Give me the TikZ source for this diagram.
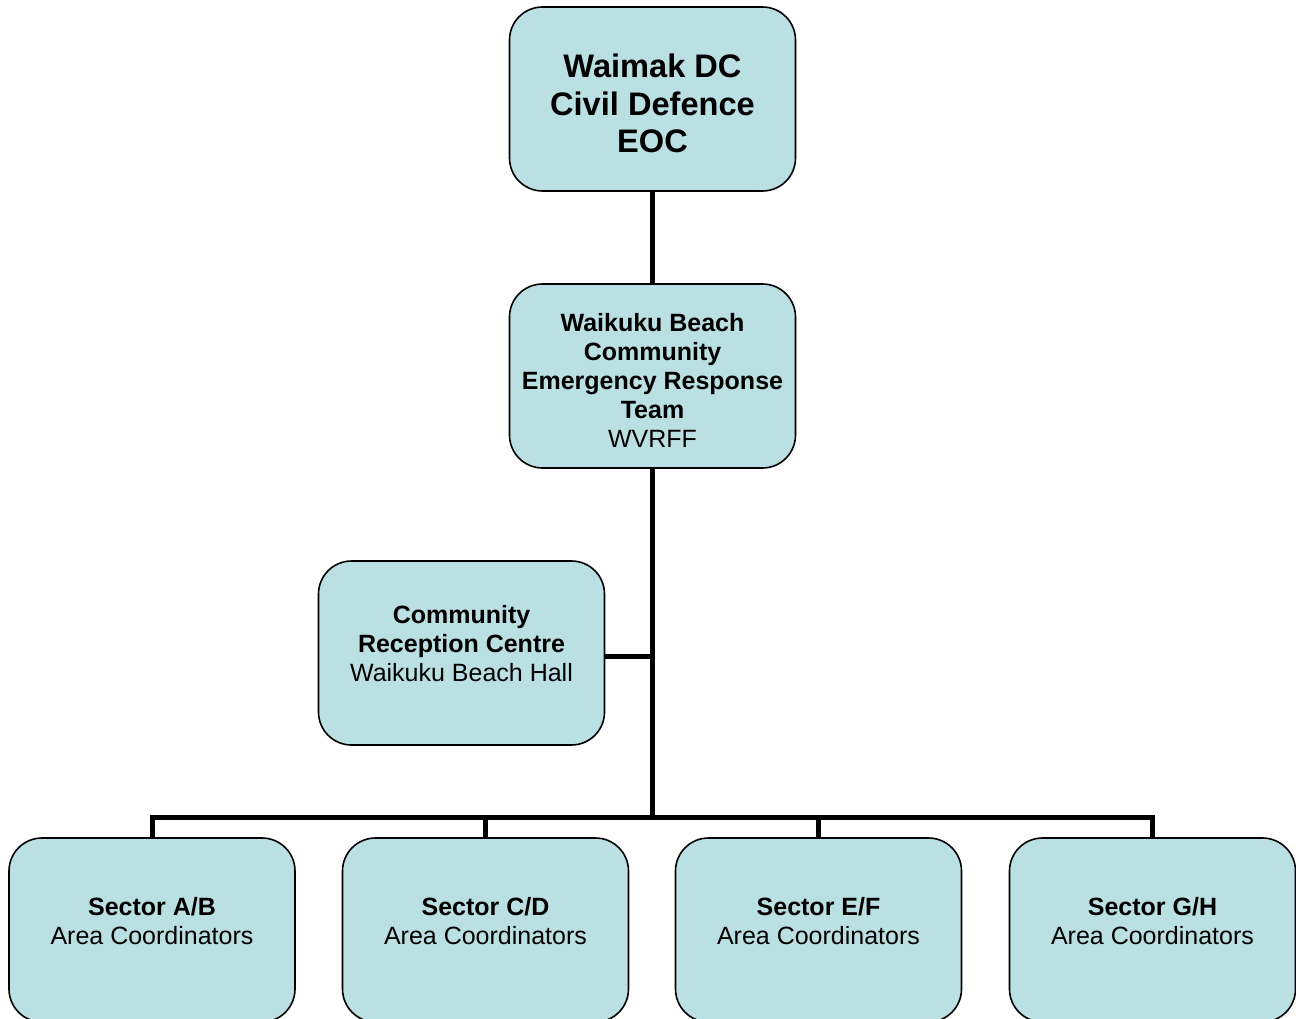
\documentclass[tikz,border=0pt]{standalone}
\usepackage{fontspec}
\setmainfont{Liberation Sans}
\definecolor{boxfill}{RGB}{187,224,227}
\begin{document}
\begin{tikzpicture}[x=1pt,y=-1pt,
  box/.style={draw=black, line width=1.6pt, fill=boxfill, rounded corners=33pt,
    minimum width=286pt, minimum height=184pt, inner sep=0pt, shape=rectangle},
  conn/.style={line width=5pt},
  tbig/.style={align=center, inner sep=0pt, font=\fontsize{32.6}{37.5}\selectfont\bfseries},
  tmid/.style={align=center, inner sep=0pt, font=\fontsize{25}{29}\selectfont}]
\useasboundingbox (0,0) rectangle (1296,1019);
\node[box] (top) at (652.5,99) {};
\node[box] (mid) at (652.5,376) {};
\node[box] (crc) at (461.5,653) {};
\node[box] (sab) at (152,930) {};
\node[box] (scd) at (485.5,930) {};
\node[box] (sef) at (818.5,930) {};
\node[box] (sgh) at (1152.5,930) {};
\coordinate (bus) at (652.5,817);
\draw[conn] (top.south) -- (mid.north);
\draw[conn] (mid.south) -- (bus);
\draw[conn] ([yshift=-3pt]crc.east) -- ([yshift=-3pt]crc.east -| mid.south);
\draw[conn] (sab.north) |- (sgh.north |- bus) -- (sgh.north);
\draw[conn] (scd.north) -- (scd.north |- bus);
\draw[conn] (sef.north) -- (sef.north |- bus);
\node[tbig] (toptxt) at (652.5,103.5) {Waimak DC\\Civil Defence\\EOC};
\node[tmid] (midtxt) at (652.5,380.5) {\textbf{Waikuku Beach}\\\textbf{Community}\\\textbf{Emergency Response}\\\textbf{Team}\\WVRFF};
\node[tmid] (crctxt) at (461.5,644) {\textbf{Community}\\\textbf{Reception Centre}\\Waikuku Beach Hall};
\node[tmid] (abtxt) at (152,921.5) {\textbf{Sector A/B}\\Area Coordinators};
\node[tmid] (cdtxt) at (485.5,921.5) {\textbf{Sector C/D}\\Area Coordinators};
\node[tmid] (eftxt) at (818.5,921.5) {\textbf{Sector E/F}\\Area Coordinators};
\node[tmid] (ghtxt) at (1152.5,921.5) {\textbf{Sector G/H}\\Area Coordinators};
\end{tikzpicture}
\end{document}
